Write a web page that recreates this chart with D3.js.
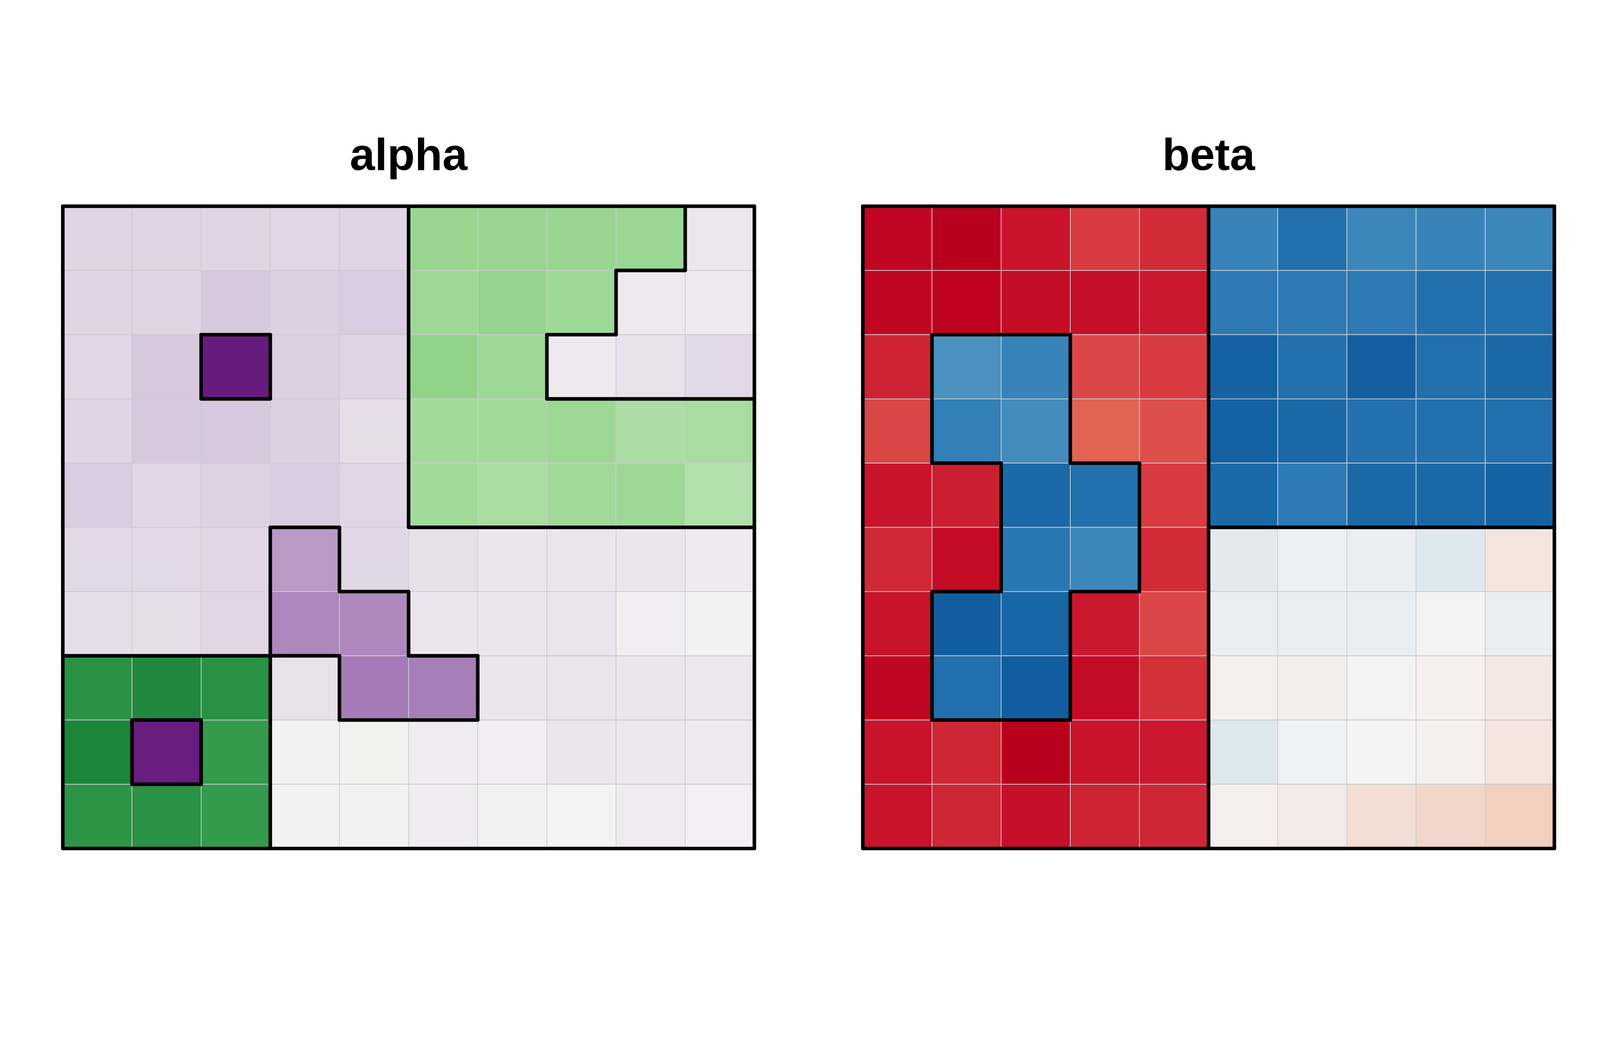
<!DOCTYPE html>
<html>
<head>
<meta charset="utf-8">
<script src="https://cdn.jsdelivr.net/npm/d3@7"></script>
<style>
	html, body { margin: 0; padding: 0; background: #fff; overflow: hidden; }
	.canvas { width: 100vw; height: 100vh; }
	.canvas svg { display: block; }
</style>
</head>
<body>
<div class="canvas"></div>
<script>
//grid categories
const rowKeys = [0, 1, 2, 3, 4, 5, 6, 7, 8, 9];
const colKeys = [0, 1, 2, 3, 4, 5, 6, 7, 8, 9];
const panelNames = ['alpha', 'beta'];

//alpha values (negative = purple, positive = green)
const alphaValues = [
	[-0.21, -0.21, -0.21, -0.20, -0.21, 0.43, 0.43, 0.43, 0.42, -0.08],
	[-0.21, -0.21, -0.30, -0.24, -0.27, 0.41, 0.44, 0.41, -0.065, -0.065],
	[-0.20, -0.30, -0.85, -0.25, -0.21, 0.45, 0.41, -0.065, -0.125, -0.18],
	[-0.21, -0.30, -0.30, -0.24, -0.15, 0.40, 0.40, 0.415, 0.37, 0.38],
	[-0.27, -0.20, -0.23, -0.27, -0.20, 0.40, 0.375, 0.405, 0.41, 0.35],
	[-0.18, -0.18, -0.20, -0.45, -0.19, -0.13, -0.09, -0.09, -0.09, -0.06],
	[-0.14, -0.15, -0.20, -0.54, -0.535, -0.09, -0.09, -0.095, -0.035, -0.01],
	[0.74, 0.78, 0.74, -0.12, -0.60, -0.58, -0.09, -0.095, -0.09, -0.08],
	[0.80, -0.845, 0.70, -0.01, 0.015, -0.04, -0.035, -0.09, -0.08, -0.07],
	[0.73, 0.74, 0.70, -0.01, -0.013, -0.04, -0.013, 0.0, -0.047, -0.027]
];
//alpha clusters
const alphaGroups = [
	[0, 0, 0, 0, 0, 1, 1, 1, 1, 0],
	[0, 0, 0, 0, 0, 1, 1, 1, 0, 0],
	[0, 0, 2, 0, 0, 1, 1, 0, 0, 0],
	[0, 0, 0, 0, 0, 1, 1, 1, 1, 1],
	[0, 0, 0, 0, 0, 1, 1, 1, 1, 1],
	[0, 0, 0, 3, 0, 0, 0, 0, 0, 0],
	[0, 0, 0, 3, 3, 0, 0, 0, 0, 0],
	[4, 4, 4, 0, 3, 3, 0, 0, 0, 0],
	[4, 5, 4, 0, 0, 0, 0, 0, 0, 0],
	[4, 4, 4, 0, 0, 0, 0, 0, 0, 0]
];

//beta values (negative = red, positive = blue)
const betaValues = [
	[-0.82, -0.90, -0.75, -0.60, -0.66, 0.65, 0.80, 0.62, 0.65, 0.62],
	[-0.82, -0.84, -0.78, -0.77, -0.73, 0.72, 0.72, 0.72, 0.80, 0.80],
	[-0.69, 0.50, 0.65, -0.57, -0.60, 0.90, 0.79, 0.92, 0.80, 0.85],
	[-0.57, 0.68, 0.55, -0.50, -0.55, 0.90, 0.85, 0.79, 0.80, 0.80],
	[-0.75, -0.71, 0.85, 0.80, -0.60, 0.85, 0.72, 0.85, 0.85, 0.90],
	[-0.67, -0.79, 0.74, 0.62, -0.66, 0.12, 0.05, 0.08, 0.15, -0.06],
	[-0.75, 0.94, 0.87, -0.73, -0.57, 0.08, 0.08, 0.08, 0.01, 0.08],
	[-0.82, 0.80, 0.94, -0.79, -0.64, -0.02, -0.025, 0.01, -0.015, -0.05],
	[-0.75, -0.68, -0.90, -0.75, -0.73, 0.15, 0.04, 0.0, -0.015, -0.06],
	[-0.75, -0.68, -0.77, -0.69, -0.68, -0.02, -0.04, -0.09, -0.12, -0.15]
];
//beta clusters
const betaGroups = [
	[0, 0, 0, 0, 0, 1, 1, 1, 1, 1],
	[0, 0, 0, 0, 0, 1, 1, 1, 1, 1],
	[0, 3, 3, 0, 0, 1, 1, 1, 1, 1],
	[0, 3, 3, 0, 0, 1, 1, 1, 1, 1],
	[0, 0, 3, 3, 0, 1, 1, 1, 1, 1],
	[0, 0, 3, 3, 0, 2, 2, 2, 2, 2],
	[0, 3, 3, 0, 0, 2, 2, 2, 2, 2],
	[0, 3, 3, 0, 0, 2, 2, 2, 2, 2],
	[0, 0, 0, 0, 0, 2, 2, 2, 2, 2],
	[0, 0, 0, 0, 0, 2, 2, 2, 2, 2]
];

//
const W = 5400;
const H = 2700;
const m = { t: 266, l: 212 };
const w = 2334;
const h = 2167;
const gap = 366;

//colour scales
const alphaColor = d3.scaleLinear()
	.domain([-1, -0.85, -0.6, -0.45, -0.3, -0.2, 0, 0.2, 0.35, 0.45, 0.6, 0.7, 0.8, 1])
	.range(['#40004b', '#661c7e', '#a47bb6', '#bb99c7', '#d7c8de', '#e1d5e6', '#f3f3f3',
		'#d5ecd0', '#b1e0aa', '#92d38a', '#5aae61', '#349a4c', '#1b8539', '#00441b'])
	.clamp(true);

const betaColor = d3.scaleLinear()
	.domain([-1, -0.85, -0.75, -0.6, -0.5, -0.35, -0.15, 0, 0.15, 0.35, 0.5, 0.65, 0.8, 0.9, 1])
	.range(['#b00018', '#be001f', '#c8132b', '#d73b40', '#e06354', '#ea9b84', '#f3cfc0', '#f4f4f4',
		'#dee8ef', '#a5cbe2', '#4a91c0', '#3783ba', '#2270ad', '#1562a3', '#0a5599'])
	.clamp(true);

const x = d3.scaleBand().domain(colKeys).range([0, w]);
const y = d3.scaleBand().domain(rowKeys).range([0, h]);

const panels = [
	{ name: panelNames[0], values: alphaValues, groups: alphaGroups, color: alphaColor },
	{ name: panelNames[1], values: betaValues, groups: betaGroups, color: betaColor }
];

//add svg, scaled to whatever the window really is (it can be narrower than 5400)
const canvas = d3.select('.canvas')
	.append('svg')
	.attr('viewBox', `0 0 ${W} ${H}`)
	.attr('preserveAspectRatio', 'xMidYMid meet')
	.attr('width', '100%')
	.attr('height', '100%');

canvas.append('rect')
	.attr('width', W)
	.attr('height', H)
	.attr('fill', '#fff');

//outline segments wherever the cluster changes or the grid ends
function outlineSegments(groups) {
	var segs = [];
	var bw = x.bandwidth(), bh = y.bandwidth();
	var last = rowKeys.length - 1;
	rowKeys.forEach(r => {
		colKeys.forEach(c => {
			var g0 = groups[r][c];
			var x0 = x(c), y0 = y(r);
			if (c == 0) segs.push([x0, y0, x0, y0 + bh]);
			if (r == 0) segs.push([x0, y0, x0 + bw, y0]);
			if (c == last || groups[r][c + 1] != g0) segs.push([x0 + bw, y0, x0 + bw, y0 + bh]);
			if (r == last || groups[r + 1][c] != g0) segs.push([x0, y0 + bh, x0 + bw, y0 + bh]);
		});
	});
	return segs;
}

panels.forEach((p, i) => {
	var g = canvas.append('g')
		.attr('class', 'panel')
		.attr('id', 'panel-' + p.name)
		.attr('transform', `translate(${m.l + i * (w + gap)},${m.t})`);

	var cells = [];
	rowKeys.forEach(r => colKeys.forEach(c => cells.push({ r: r, c: c, v: p.values[r][c] })));

	g.selectAll('.cell')
		.data(cells)
		.enter()
		.append('rect')
		.attr('class', 'cell')
		.attr('x', d => x(d.c))
		.attr('y', d => y(d.r))
		.attr('width', x.bandwidth())
		.attr('height', y.bandwidth())
		.style('fill', d => p.color(d.v))
		.style('stroke', '#cccccc')
		.style('stroke-width', 2.5);

	g.selectAll('.outline')
		.data(outlineSegments(p.groups))
		.enter()
		.append('line')
		.attr('class', 'outline')
		.attr('x1', d => d[0])
		.attr('y1', d => d[1])
		.attr('x2', d => d[2])
		.attr('y2', d => d[3])
		.style('stroke', '#000')
		.style('stroke-width', 12)
		.style('stroke-linecap', 'round');

	//title
	g.append('text')
		.attr('x', w / 2)
		.attr('y', 144 - m.t)
		.style('text-anchor', 'middle')
		.style('font-family', '"Liberation Sans", Arial, sans-serif')
		.style('font-weight', 'bold')
		.style('font-size', '152px')
		.style('fill', '#000')
		.text(p.name);
});
</script>
</body>
</html>
